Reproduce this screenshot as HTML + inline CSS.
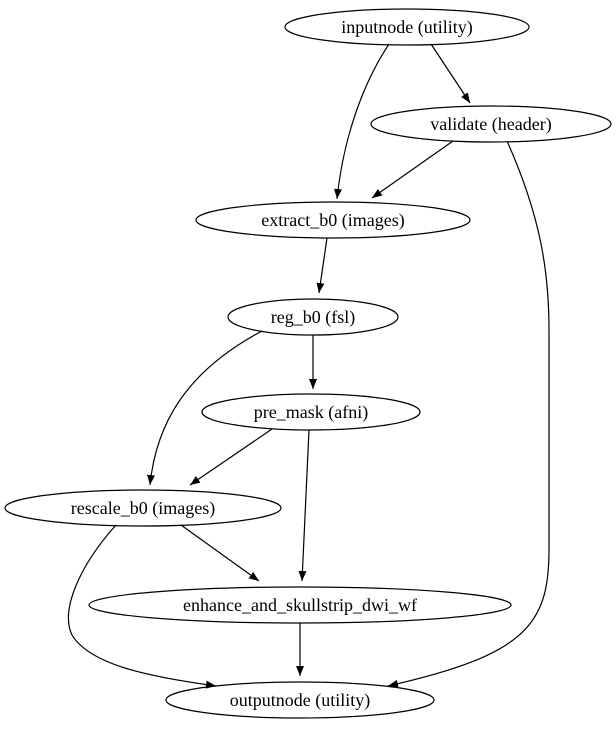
<!DOCTYPE html>
<html><head><style>html,body{margin:0;padding:0;background:#fff}svg{display:block}</style></head>
<body>
<svg width="616" height="731" viewBox="0 0 616 731" xmlns="http://www.w3.org/2000/svg">
<defs><marker id="a" markerWidth="10" markerHeight="8" refX="10" refY="4" orient="auto" markerUnits="userSpaceOnUse"><path d="M0,0 L10,4 L0,8 z" fill="#000"/></marker></defs>
<g fill="none" stroke="#000" stroke-width="1.2">
<ellipse cx="407" cy="27" rx="122" ry="18"/>
<ellipse cx="491" cy="124" rx="120" ry="18"/>
<ellipse cx="333" cy="220" rx="137" ry="18"/>
<ellipse cx="313" cy="317" rx="85" ry="18"/>
<ellipse cx="311" cy="412" rx="109" ry="18"/>
<ellipse cx="143" cy="508" rx="138" ry="18"/>
<ellipse cx="300" cy="605" rx="211" ry="18"/>
<ellipse cx="300" cy="700" rx="134" ry="18"/>
<g marker-end="url(#a)">
<path d="M431,44 L470,103"/>
<path d="M389,44 C362,85 343,140 337,199"/>
<path d="M453,141 L372,198"/>
<path d="M507,141 C540,215 549,270 549,330 L549,550 C549,625 525,655 388,686"/>
<path d="M327,238 L319,293"/>
<path d="M313,335 L313,389"/>
<path d="M262,331 C185,372 156,425 150,485"/>
<path d="M272,429 L190,485"/>
<path d="M309,430 L302,581"/>
<path d="M181,525 L259,581"/>
<path d="M116,525 C80,565 60,610 72,635 C90,665 150,677 216,686"/>
<path d="M300,623 L300,676"/>
</g></g>
<g font-family="'Liberation Serif',serif" font-size="18" text-anchor="middle" fill="#000">
<text x="407" y="33">inputnode (utility)</text>
<text x="491" y="130">validate (header)</text>
<text x="333" y="226">extract_b0 (images)</text>
<text x="313" y="323">reg_b0 (fsl)</text>
<text x="311" y="418">pre_mask (afni)</text>
<text x="143" y="514">rescale_b0 (images)</text>
<text x="300" y="611">enhance_and_skullstrip_dwi_wf</text>
<text x="300" y="706">outputnode (utility)</text>
</g>
</svg>
</body></html>
